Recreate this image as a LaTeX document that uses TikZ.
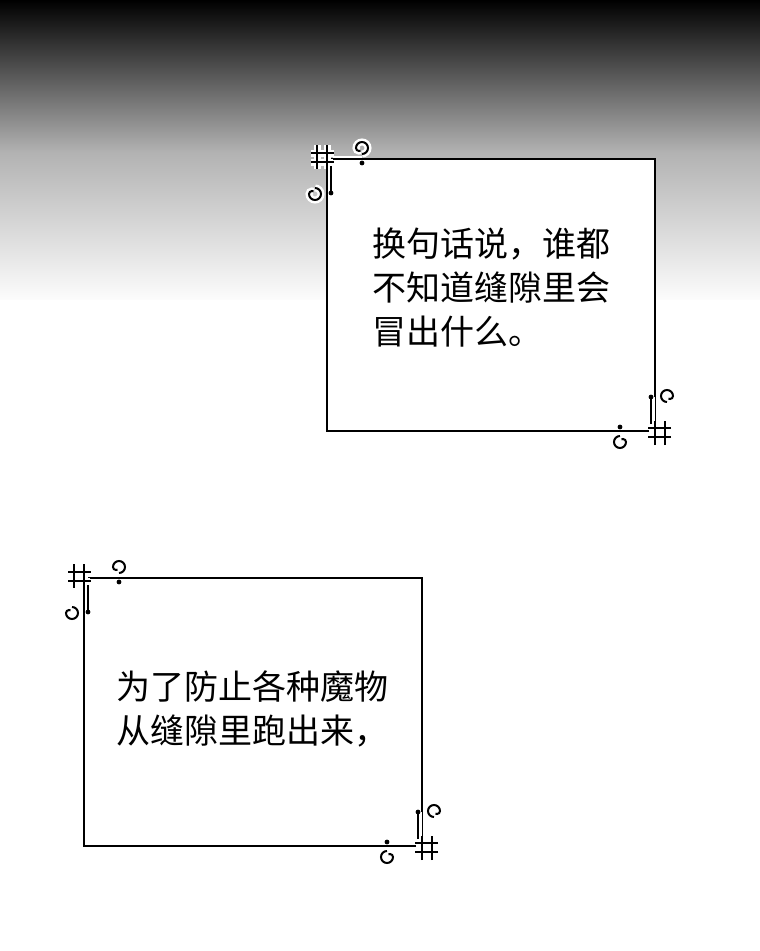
\documentclass[tikz,border=0pt]{standalone}
\usepackage{fontspec}
\newfontfamily\cjk{Noto Sans CJK SC}
\begin{document}
\begin{tikzpicture}[x=1pt,y=-1pt,
  boxline/.style={line width=2pt},
  txt/.style={font=\cjk\fontsize{34}{44}\selectfont,anchor=north west,align=left,inner sep=0pt},
  orn/.pic={
    \foreach \c/\w in {white/7,black/2}{
      \draw[\c,line width=\w pt] (-15,-5)--(8,-5) (-15,4)--(8,4) (-9,-13)--(-9,11) (1,-13)--(1,11);
      \draw[\c,line width=\w pt] (7,1)--(36,1) (5,8)--(5,35);
      \draw[\c,line width=\w pt] (36,-4) arc(90:-180:6) arc(180:60:3);
      \draw[\c,line width=\w pt] (-11,30) arc(-90:180:6) arc(180:300:3);
    }
    \fill (36,5) circle(2.4) (5,35) circle(2.4);
  }]
\useasboundingbox (0,0) rectangle (760,951);
\fill[white] (0,0) rectangle (760,951);
\shade[top color=black,bottom color=white,middle color=gray!60] (0,0) rectangle (760,305);
\fill[white] (0,300) rectangle (760,951);
\node[draw,boxline,fill=white,minimum width=328pt,minimum height=272pt,anchor=north west,inner sep=0pt] (b1) at (326,158) {};
\node[draw,boxline,fill=white,minimum width=338pt,minimum height=268pt,anchor=north west,inner sep=0pt] (b2) at (83,577) {};
\pic at (b1.north west) {orn};
\pic[rotate=180] at (b1.south east) {orn};
\pic at (b2.north west) {orn};
\pic[rotate=180] at (b2.south east) {orn};
\node[txt] (t1) at (372,228) {换句话说，谁都\\不知道缝隙里会\\冒出什么。};
\node[txt] (t2) at (116,670) {为了防止各种魔物\\从缝隙里跑出来，};
\end{tikzpicture}
\end{document}
